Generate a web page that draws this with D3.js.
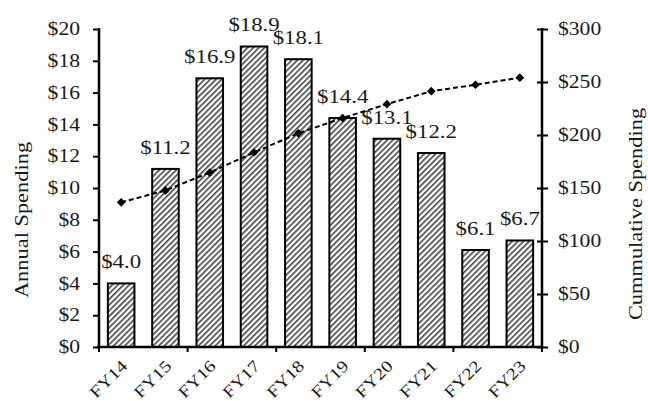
<!DOCTYPE html>
<html>
<head>
<meta charset="utf-8">
<script src="https://cdn.jsdelivr.net/npm/d3@7"></script>
<style>
  body { margin: 0; background: #fff; }
  svg text { font-family: "Liberation Serif", "Times New Roman", serif; fill: #1a1a1a; }
</style>
</head>
<body>
<script>
// data
var years = ["FY14", "FY15", "FY16", "FY17", "FY18", "FY19", "FY20", "FY21", "FY22", "FY23"];
var annual = [4.0, 11.2, 16.9, 18.9, 18.1, 14.4, 13.1, 12.2, 6.1, 6.7];
var cumulative = [136.5, 147.7, 164.6, 183.5, 201.6, 216.0, 229.1, 241.3, 247.4, 254.1];
var leftTicks = [0, 2, 4, 6, 8, 10, 12, 14, 16, 18, 20];
var rightTicks = [0, 50, 100, 150, 200, 250, 300];

var w = 648, h = 401;
var plotL = 99, plotR = 542, plotT = 29, plotB = 347;
var sx = 1.2; // text in the picture is wide, stretch along baseline

var svg = d3.select("body").append("svg")
    .attr("width", w)
    .attr("height", h);

// hatch pattern for the bars
var pat = svg.append("defs").append("pattern")
    .attr("id", "hatch")
    .attr("patternUnits", "userSpaceOnUse")
    .attr("width", 4)
    .attr("height", 4)
    .attr("patternTransform", "rotate(45)");
pat.append("rect").attr("width", 4).attr("height", 4).attr("fill", "#fff");
pat.append("rect").attr("x", 0).attr("width", 1.6).attr("height", 4).attr("fill", "#444");

var xScale = d3.scaleBand()
    .domain(years)
    .range([plotL, plotR])
    .paddingInner(0.4)
    .paddingOuter(0.2);
var yLeft = d3.scaleLinear().domain([0, 20]).range([plotB, plotT]);
var yRight = d3.scaleLinear().domain([0, 300]).range([plotB, plotT]);

function cx(i) { return xScale(years[i]) + xScale.bandwidth() / 2; }

// bars
svg.selectAll("rect.bar")
   .data(annual)
   .enter()
   .append("rect")
   .attr("class", "bar")
   .attr("x", function(d, i) { return xScale(years[i]); })
   .attr("y", function(d) { return yLeft(d); })
   .attr("width", xScale.bandwidth())
   .attr("height", function(d) { return plotB - yLeft(d); })
   .attr("fill", "url(#hatch)")
   .attr("stroke", "#000")
   .attr("stroke-width", 2);

// bar labels
svg.selectAll("text.lbl")
   .data(annual)
   .enter()
   .append("text")
   .attr("class", "lbl")
   .attr("text-anchor", "middle")
   .attr("font-size", "19px")
   .attr("transform", function(d, i) {
       return "translate(" + cx(i) + "," + (yLeft(d) - 15) + ") scale(" + sx + ",1)";
   })
   .text(function(d) { return "$" + d.toFixed(1); });

// cumulative line
var line = d3.line()
    .x(function(d, i) { return cx(i); })
    .y(function(d) { return yRight(d); });

svg.append("path")
   .datum(cumulative)
   .attr("d", line)
   .attr("fill", "none")
   .attr("stroke", "#000")
   .attr("stroke-width", 2)
   .attr("stroke-dasharray", "5,3");

svg.selectAll("path.pt")
   .data(cumulative)
   .enter()
   .append("path")
   .attr("class", "pt")
   .attr("d", d3.symbol().type(d3.symbolSquare).size(38))
   .attr("transform", function(d, i) {
       return "translate(" + cx(i) + "," + yRight(d) + ") rotate(45)";
   })
   .attr("fill", "#000");

// left axis
var gl = svg.append("g")
   .attr("transform", "translate(" + plotL + ",0)")
   .call(d3.axisLeft(yLeft).tickValues(leftTicks).tickSize(6).tickFormat(function(d) { return "$" + d; }));
gl.select(".domain").remove();
gl.selectAll("line").attr("stroke", "#000").attr("stroke-width", 2);
gl.selectAll("text")
  .attr("x", -19 / sx)
  .attr("fill", "#1a1a1a")
  .attr("font-size", "18px")
  .attr("transform", "scale(" + sx + ",1)");
gl.attr("font-family", null).attr("font-size", null);

// right axis
var gr = svg.append("g")
   .attr("transform", "translate(" + plotR + ",0)")
   .call(d3.axisRight(yRight).tickValues(rightTicks).tickSize(6).tickFormat(function(d) { return "$" + d; }));
gr.select(".domain").remove();
gr.selectAll("line").attr("x1", -5).attr("x2", 6).attr("stroke", "#000").attr("stroke-width", 2);
gr.selectAll("text")
  .attr("x", 16 / sx)
  .attr("fill", "#1a1a1a")
  .attr("font-size", "18px")
  .attr("transform", "scale(" + sx + ",1)");
gr.attr("font-family", null).attr("font-size", null);

// axis lines
svg.append("line").attr("x1", plotL).attr("x2", plotL).attr("y1", plotT - 1).attr("y2", plotB + 1)
   .attr("stroke", "#000").attr("stroke-width", 2.5);
svg.append("line").attr("x1", plotR).attr("x2", plotR).attr("y1", plotT - 1).attr("y2", plotB + 1)
   .attr("stroke", "#000").attr("stroke-width", 2.5);
svg.append("line").attr("x1", plotL - 2).attr("x2", plotR + 1).attr("y1", plotB).attr("y2", plotB)
   .attr("stroke", "#000").attr("stroke-width", 2.5);

// x ticks every second category boundary
var bounds = [0, 2, 4, 6, 8, 10];
svg.selectAll("line.xt")
   .data(bounds)
   .enter()
   .append("line")
   .attr("class", "xt")
   .attr("x1", function(d) { return plotL + d * xScale.step(); })
   .attr("x2", function(d) { return plotL + d * xScale.step(); })
   .attr("y1", plotB)
   .attr("y2", plotB + 5)
   .attr("stroke", "#000")
   .attr("stroke-width", 2);

// x labels, rotated
svg.selectAll("text.xl")
   .data(years)
   .enter()
   .append("text")
   .attr("class", "xl")
   .attr("text-anchor", "end")
   .attr("font-size", "16.5px")
   .attr("transform", function(d, i) {
       return "translate(" + (cx(i) + 7) + "," + (plotB + 20) + ") rotate(-45) scale(" + sx + ",1)";
   })
   .text(function(d) { return d; });

// axis titles
svg.append("text")
   .attr("text-anchor", "middle")
   .attr("font-size", "19px")
   .attr("transform", "translate(28," + ((plotT + plotB) / 2 + 32) + ") rotate(-90) scale(1.18,1)")
   .text("Annual Spending");

svg.append("text")
   .attr("text-anchor", "middle")
   .attr("font-size", "19px")
   .attr("transform", "translate(642," + ((plotT + plotB) / 2 + 26) + ") rotate(-90) scale(1.18,1)")
   .text("Cummulative Spending");
</script>
</body>
</html>
